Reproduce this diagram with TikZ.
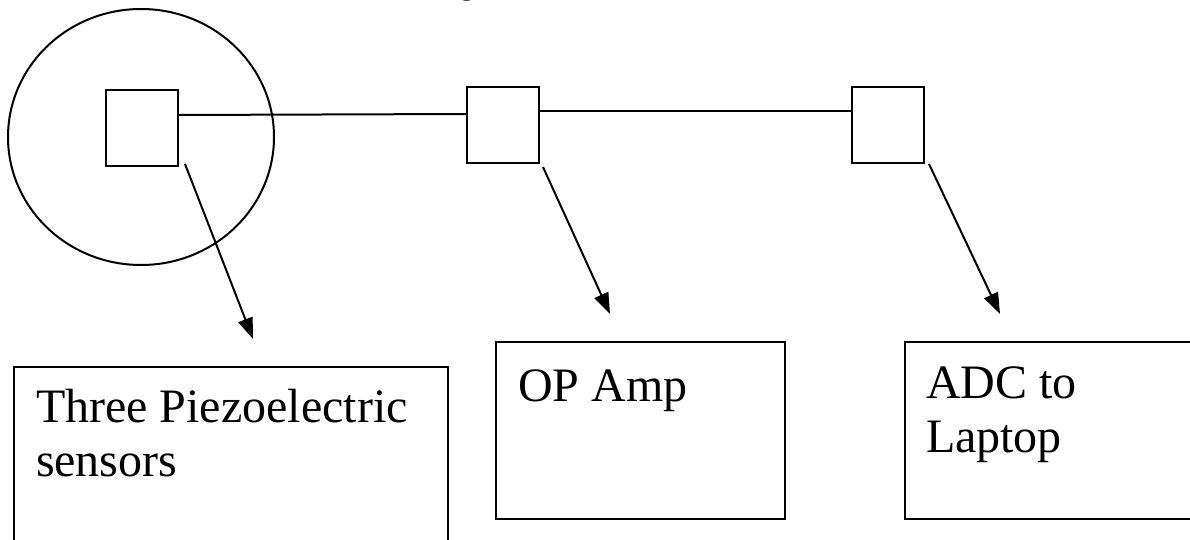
\documentclass[tikz,border=0pt]{standalone}
\usepackage{fontspec}
\setmainfont{Liberation Serif}
\usetikzlibrary{arrows.meta,shapes.geometric}
\begin{document}
\begin{tikzpicture}[x=1pt,y=-1pt,
  line width=2pt,
  square/.style={draw, minimum width=72pt, minimum height=76pt, inner sep=0pt, anchor=north west},
  blockbox/.style={draw, inner sep=0pt, anchor=north west},
  label/.style={anchor=base west, align=left, inner sep=0pt,
                font=\fontsize{48}{54}\selectfont},
  pointer/.style={-{Triangle[length=21pt,width=15pt]}, line width=2pt},
  wire/.style={line width=2pt}
]
\clip (0,0) rectangle (1190,540);
\useasboundingbox (0,0) rectangle (1190,540);

% heading, mostly above the page
\node[anchor=base, inner sep=0pt, font=\bfseries\fontsize{26}{30}\selectfont] (heading) at (467,-4) {g};

% sensor area
\node[draw, ellipse, minimum width=266pt, minimum height=256pt, inner sep=0pt] (zone) at (141,137) {};

% small blocks
\node[square] (s1) at (105,89) {};
\node[square] (s2) at (466,86) {};
\node[square] (s3) at (851,86) {};

% wiring between the blocks
\draw[wire] ([yshift=-26pt]s1.north east) -- ([yshift=-28pt]s2.north west);
\draw[wire] ([yshift=-25.5pt]s2.north east) -- ([yshift=-25.5pt]s3.north west);

% description boxes
\node[blockbox, minimum width=434pt, minimum height=220pt] (b1) at (13,366) {};
\node[blockbox, minimum width=289pt, minimum height=177pt] (b2) at (495,341) {};
\node[blockbox, minimum width=300pt, minimum height=177pt] (b3) at (904,341) {};

% multi-line labels are placed by the baseline of their last line
\node[label] (l1) at (35,476) {Three Piezoelectric\\sensors};
\node[label] (l2) at (517,401) {OP Amp};
\node[label] (l3) at (925,452) {ADC to\\Laptop};

% pointers from blocks to descriptions
\coordinate (t1) at (253,339);
\coordinate (t2) at (610,314);
\coordinate (t3) at (1000,314);
\draw[pointer] ([xshift=6pt,yshift=3pt]s1.south east) -- (t1);
\draw[pointer] ([xshift=3pt,yshift=-3pt]s2.south east) -- (t2);
\draw[pointer] ([xshift=4pt]s3.south east) -- (t3);
\end{tikzpicture}
\end{document}
